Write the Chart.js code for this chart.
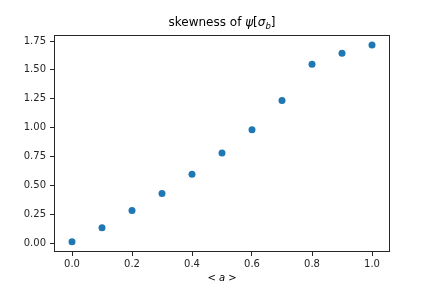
<!DOCTYPE html>
<html>
<head>
<meta charset="utf-8">
<script src="https://cdn.jsdelivr.net/npm/chart.js@4/dist/chart.umd.min.js"></script>
<style>
  html, body { margin: 0; padding: 0; background: #fff; }
  #wrap { width: 432px; height: 288px; position: relative; }
</style>
</head>
<body>
<div id="wrap"><canvas id="c" width="432" height="288"></canvas></div>
<script>
// mean a vs skewness
const meanA = [0.0, 0.1, 0.2, 0.3, 0.4, 0.5, 0.6, 0.7, 0.8, 0.9, 1.0];
const skewness = [0.012, 0.134, 0.283, 0.431, 0.597, 0.781, 0.982, 1.235, 1.549, 1.645, 1.715];
const xTicks = [0.0, 0.2, 0.4, 0.6, 0.8, 1.0];
const yTicks = [0.0, 0.25, 0.5, 0.75, 1.0, 1.25, 1.5, 1.75];

const FONT = '"DejaVu Sans", sans-serif';
const INK = '#262626';

// frame + title + x label, drawn like matplotlib does
const decorations = {
    id: 'decorations',
    afterDraw(chart) {
        const { ctx, chartArea: a } = chart;
        ctx.save();
        ctx.strokeStyle = INK;
        ctx.lineWidth = 1;
        ctx.strokeRect(Math.round(a.left) + 0.5, Math.round(a.top) + 0.5,
            Math.round(a.right - a.left) - 1, Math.round(a.bottom - a.top) - 1);

        // title: skewness of ψ[σ_b]
        const parts = [
            { t: 'skewness of ', f: '12px ' + FONT, dy: 0 },
            { t: 'ψ', f: 'italic 12px ' + FONT, dy: 0 },
            { t: '[', f: '12px ' + FONT, dy: 0 },
            { t: 'σ', f: 'italic 12px ' + FONT, dy: 0 },
            { t: 'b', f: 'italic 8.5px ' + FONT, dy: 2.5 },
            { t: ']', f: '12px ' + FONT, dy: 0 },
        ];
        let total = 0;
        parts.forEach(p => { ctx.font = p.f; p.w = ctx.measureText(p.t).width; total += p.w; });
        const cx = (a.left + a.right) / 2;
        let x = cx - total / 2;
        ctx.fillStyle = '#000';
        ctx.textBaseline = 'alphabetic';
        ctx.textAlign = 'left';
        parts.forEach(p => { ctx.font = p.f; ctx.fillText(p.t, x, 26 + p.dy); x += p.w; });

        // x label: < a >
        const lab = [
            { t: '< ', f: '10px ' + FONT },
            { t: 'a', f: 'italic 10px ' + FONT },
            { t: ' >', f: '10px ' + FONT },
        ];
        total = 0;
        lab.forEach(p => { ctx.font = p.f; p.w = ctx.measureText(p.t).width; total += p.w; });
        x = cx - total / 2;
        lab.forEach(p => { ctx.font = p.f; ctx.fillText(p.t, x, 281); x += p.w; });
        ctx.restore();
    }
};

new Chart(document.getElementById('c'), {
    type: 'scatter',
    data: {
        datasets: [{
            data: meanA.map((v, i) => ({ x: v, y: skewness[i] })),
            backgroundColor: '#1f77b4',
            borderColor: '#1f77b4',
            borderWidth: 0,
            pointRadius: 3.5,
        }],
    },
    options: {
        responsive: false,
        animation: false,
        devicePixelRatio: 1,
        layout: { padding: { top: 35, right: 42, left: 0, bottom: 0 } },
        plugins: {
            legend: { display: false },
            tooltip: { enabled: false },
        },
        scales: {
            x: {
                type: 'linear',
                min: -0.06,
                max: 1.06,
                afterFit: s => { s.height = 36; },
                afterBuildTicks: s => { s.ticks = xTicks.map(v => ({ value: v })); },
                grid: { drawOnChartArea: false, drawTicks: true, tickLength: 4, color: INK },
                border: { display: false },
                ticks: {
                    padding: 2,
                    color: INK,
                    font: { family: FONT, size: 10 },
                    maxRotation: 0,
                    callback: v => v.toFixed(1),
                },
            },
            y: {
                type: 'linear',
                min: -0.076,
                max: 1.802,
                afterFit: s => { s.width = 54; },
                afterBuildTicks: s => { s.ticks = yTicks.map(v => ({ value: v })); },
                grid: { drawOnChartArea: false, drawTicks: true, tickLength: 4, color: INK },
                border: { display: false },
                ticks: {
                    padding: 4,
                    color: INK,
                    font: { family: FONT, size: 10 },
                    callback: v => v.toFixed(2),
                },
            },
        },
    },
    plugins: [decorations],
});
</script>
</body>
</html>
